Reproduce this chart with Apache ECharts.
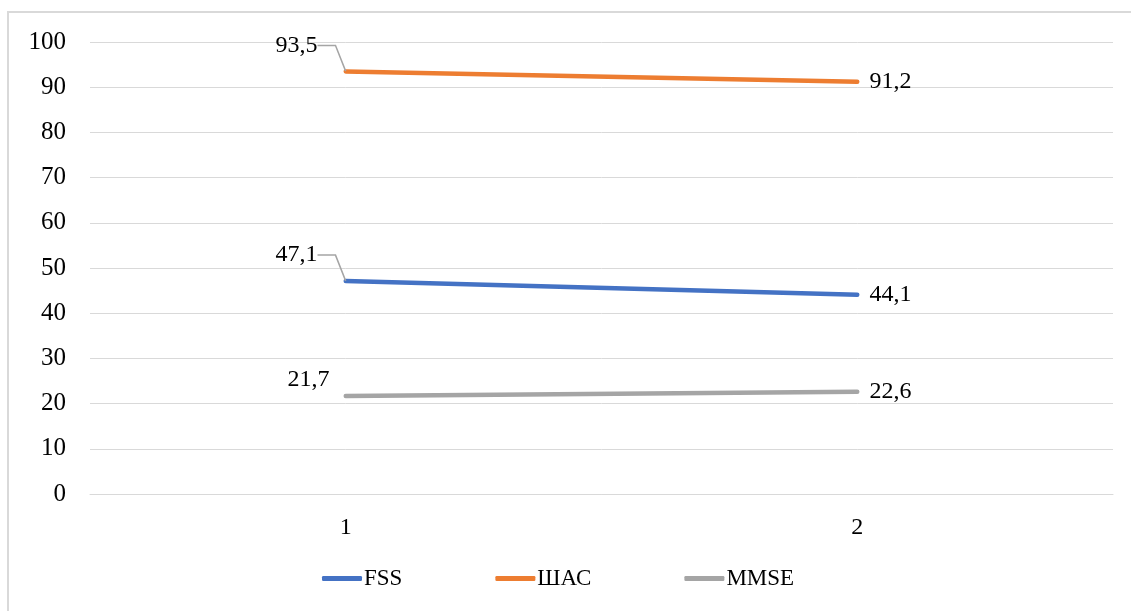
<!DOCTYPE html>
<html>
<head>
<meta charset="utf-8">
<script src="https://cdn.jsdelivr.net/npm/echarts@6/dist/echarts.min.js"></script>
<style>html,body{margin:0;padding:0;background:#fff}#c{width:1131px;height:611px}</style>
</head>
<body>
<div id="c"></div>
<script>
var categories = ['1', '2'];
var fss = [47.1, 44.1];
var shas = [93.5, 91.2];
var mmse = [21.7, 22.6];
var seriesNames = ['FSS', 'ШАС', 'MMSE'];
var colors = ['#4472C4', '#ED7D31', '#A5A5A5'];

function fmt(v) { return String(v).replace('.', ','); }
var font = '"Liberation Serif", "Times New Roman", serif';

function buildData(vals, withLine) {
  return vals.map(function (v, i) {
    if (i === 0) return { value: v, label: { position: 'left', distance: 4 }, labelLine: { show: withLine } };
    return { value: v, label: { position: 'right', distance: 12, offset: [0, 3], padding: 0 }, labelLine: { show: false } };
  });
}

function mk(name, vals, color, move, withLine) {
  return {
    name: name, type: 'line', data: buildData(vals, withLine),
    symbol: 'circle', symbolSize: 0.5, showSymbol: true,
    lineStyle: { color: color, width: 4.5, cap: 'round' },
    itemStyle: { color: color },
    label: { show: true, color: '#000', fontFamily: font, fontSize: 24, padding: [0, 4, 0, 0], formatter: function (p) { return fmt(p.value); } },
    labelLine: { show: withLine, length2: 18, lineStyle: { color: '#A5A5A5', width: 1.5 } },
    labelLayout: function (p) {
      if (p.dataIndex === 0) return { dx: move[0], dy: move[1] };
      return {};
    },
    emphasis: { disabled: true }
  };
}

var chart = echarts.init(document.getElementById('c'));
chart.setOption({
  animation: false,
  backgroundColor: '#fff',
  graphic: [{ type: 'rect', shape: { x: 8, y: 12, width: 1140, height: 620 }, style: { fill: 'none', stroke: '#D9D9D9', lineWidth: 2 } }],
  grid: { left: 90, right: 18, top: 42, bottom: 117 },
  legend: {
    bottom: 16, left: 317, itemGap: 93,
    itemWidth: 40, itemHeight: 5, icon: 'roundRect',
    textStyle: { fontFamily: font, fontSize: 23, color: '#000', padding: [0, 0, 0, -3] },
    data: seriesNames
  },
  xAxis: {
    type: 'category', data: categories, boundaryGap: true,
    axisLine: { lineStyle: { color: '#D9D9D9', width: 1 } },
    axisTick: { show: false },
    axisLabel: { color: '#000', fontFamily: font, fontSize: 24, margin: 22 }
  },
  yAxis: {
    type: 'value', min: 0, max: 100, interval: 10,
    axisLine: { show: false }, axisTick: { show: false },
    axisLabel: { color: '#000', fontFamily: font, fontSize: 25, margin: 24 },
    splitLine: { lineStyle: { color: '#D9D9D9', width: 1 } }
  },
  series: [
    mk(seriesNames[0], fss, colors[0], [-20, -26], true),
    mk(seriesNames[1], shas, colors[1], [-20, -26], true),
    mk(seriesNames[2], mmse, colors[2], [-8, -16], false)
  ]
});
</script>
</body>
</html>
